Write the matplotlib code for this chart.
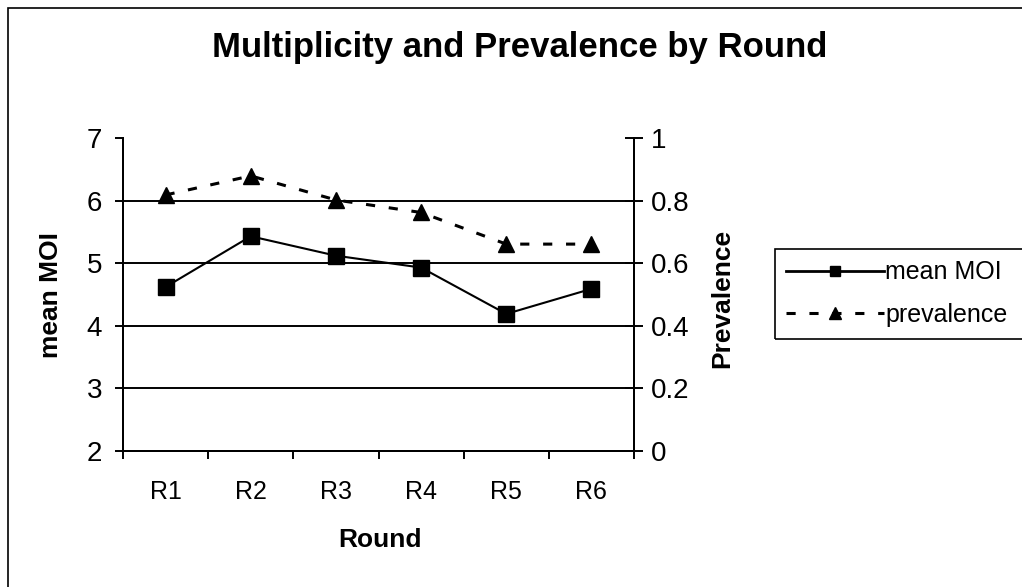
import matplotlib
matplotlib.use('Agg')
import matplotlib.pyplot as plt
from matplotlib.patches import Rectangle
from matplotlib.lines import Line2D

plt.rcParams['font.family'] = ['Liberation Sans', 'DejaVu Sans']

rounds = ['R1', 'R2', 'R3', 'R4', 'R5', 'R6']
mean_moi = [4.62, 5.43, 5.12, 4.93, 4.19, 4.59]
prevalence = [0.818, 0.879, 0.802, 0.762, 0.661, 0.661]

W, H = 1022, 587
fig = plt.figure(figsize=(W / 100, H / 100), dpi=100)
ax = fig.add_axes([123 / W, 1 - 451 / H, 511 / W, 313 / H])
ax2 = ax.twinx()

x = list(range(1, len(rounds) + 1))

# outer chart frame, cut off at right and bottom as in the original
fig.patches.append(Rectangle((8 / W, -0.05), 1.1, 1 - 8 / H + 0.05,
                             transform=fig.transFigure, fill=False,
                             edgecolor='black', linewidth=1.2))

for y in [3, 4, 5, 6]:
    ax.axhline(y, color='black', linewidth=1.4, zorder=1)

dash = (0, (3, 4.5))
ax.plot(x, mean_moi, color='black', linewidth=1.5, marker='s',
        markersize=12, zorder=3)
ax2.plot(x, prevalence, color='black', linewidth=2.2, linestyle=dash,
         marker='^', markersize=11, zorder=3)

ax.set_xlim(0.5, 6.5)
ax.set_ylim(2, 7)
ax2.set_ylim(0, 1)

ax.set_xticks(x)
ax.set_xticklabels(rounds)
ax.set_xticks([i + 0.5 for i in range(0, 7)], minor=True)
ax.tick_params(axis='x', which='major', length=0, pad=21, labelsize=18)
ax.tick_params(axis='x', which='minor', length=6, width=1.4, direction='out')
ax.set_yticks([2, 3, 4, 5, 6, 7])
ax.tick_params(axis='y', length=6, width=1.4, labelsize=20, pad=9)
ax2.set_yticks([0, 0.2, 0.4, 0.6, 0.8, 1])
ax2.set_yticklabels(['0', '0.2', '0.4', '0.6', '0.8', '1'])
ax2.tick_params(axis='y', direction='inout', length=13, width=1.4,
                labelsize=20, pad=6)

for a in (ax, ax2):
    a.spines['top'].set_visible(False)
    for s in ('left', 'right', 'bottom'):
        a.spines[s].set_linewidth(1.4)

fig.text(380 / W, 1 - 540 / H, 'Round', ha='center', va='center',
         fontsize=19, fontweight='bold')
fig.text(51 / W, 1 - 295 / H, 'mean MOI', ha='center', va='center',
         rotation=90, fontsize=19, fontweight='bold')
fig.text(722 / W, 1 - 298 / H, 'Prevalence', ha='center', va='center',
         rotation=90, fontsize=19, fontweight='bold')

fig.text(520 / W, 1 - 48 / H, 'Multiplicity and Prevalence by Round',
         ha='center', va='center', fontsize=25, fontweight='bold')

# legend: box runs past the right edge, as in the original
fig.patches.append(Rectangle((775 / W, 1 - 339 / H), 300 / W, 90 / H,
                             transform=fig.transFigure, fill=False,
                             edgecolor='black', linewidth=1.2))
h1 = Line2D([], [], color='black', linewidth=2, marker='s', markersize=7)
h2 = Line2D([], [], color='black', linewidth=2.2, linestyle=dash,
            marker='^', markersize=8)
leg = fig.legend([h1, h2], ['mean MOI', 'prevalence'], loc='upper left',
                 bbox_to_anchor=(775 / W, 1 - 249 / H), fontsize=18,
                 frameon=False, handlelength=3.9, handletextpad=0.05,
                 borderpad=0.45, labelspacing=0.75, borderaxespad=0)

fig.savefig('out.png', dpi=100)
